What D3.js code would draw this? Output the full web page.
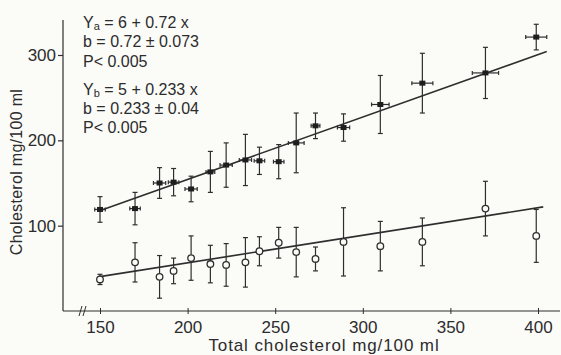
<!DOCTYPE html>
<html>
<head>
<meta charset="utf-8">
<script src="https://cdn.jsdelivr.net/npm/d3@7"></script>
<style>
  body { margin: 0; background: #fbfbf8; }
  text { font-family: "Liberation Sans", Arial, sans-serif; fill: #2c2c2c; }
</style>
</head>
<body>
<div id="chart"></div>
<script>
/**
 * Data
 */
const totalChol = [150, 170, 184, 192, 202, 213, 222, 233, 241, 252, 262, 273, 289, 310, 334, 370, 399];
const totalCholErr = [3, 3, 3.5, 3, 3.5, 2.5, 3.5, 3.5, 3, 3, 4.5, 2.5, 3.5, 5, 6, 7.5, 6];

const cholA = [119, 120, 150, 151, 143, 163, 171, 177, 176, 175, 197, 217, 215, 242, 267, 279, 321];
const cholAErr = [15, 19, 18, 16, 15, 24, 26, 30, 16, 20, 35, 15, 16, 34, 35, 30, 15];

const cholB = [37, 57, 40, 47, 62, 55, 54, 57, 70, 80, 69, 61, 81, 76, 81, 120, 88];
const cholBErr = [6, 23, 25, 15, 26, 22, 25, 29, 17, 18, 29, 14, 40, 29, 28, 32, 31];

// regression lines, end points as drawn
const fitA = [[149, 117], [405, 304]];
const fitB = [[149, 40], [403, 122]];

const xTicks = [150, 200, 250, 300, 350, 400];
const yTicks = [100, 200, 300];

const noteLines = [
  ["Y", "a", " = 6 + 0.72 x"],
  ["b = 0.72 ± 0.073"],
  ["P< 0.005"],
  ["Y", "b", " = 5 + 0.233 x"],
  ["b = 0.233 ± 0.04"],
  ["P< 0.005"]
];

/**
 * Basic settings
 */
const width = 561;
const height = 355;
const ink = "#2e2e2e";

const svg = d3.select("#chart")
  .append("svg")
  .attr("width", width)
  .attr("height", height);

const x = d3.scaleLinear().domain([150, 400]).range([100, 538]);
const y = d3.scaleLinear().domain([0, 300]).range([311, 55]);

const axisLeftX = 63;
const yTop = 341;

/**
 * Axes
 */
const yAxis = svg.append("g")
  .attr("transform", `translate(${axisLeftX},0)`)
  .call(d3.axisLeft(y).tickValues(yTicks).tickSize(5).tickPadding(2));
yAxis.select(".domain").remove();
yAxis.selectAll("line").attr("stroke", ink).attr("stroke-width", 1.2);
yAxis.selectAll("text").attr("font-size", 17).attr("fill", ink)
  .attr("font-family", "Liberation Sans, Arial, sans-serif");

svg.append("line")
  .attr("x1", axisLeftX).attr("x2", axisLeftX)
  .attr("y1", y(0)).attr("y2", y(yTop))
  .attr("stroke", ink).attr("stroke-width", 1.2);

const xAxis = svg.append("g")
  .attr("transform", `translate(0,${y(0)})`)
  .call(d3.axisBottom(x).tickValues(xTicks).tickSize(3).tickPadding(7));
xAxis.select(".domain").remove();
xAxis.selectAll("line").attr("stroke", ink).attr("stroke-width", 1).attr("y1", -3);
xAxis.selectAll("text").attr("font-size", 17).attr("fill", ink)
  .attr("font-family", "Liberation Sans, Arial, sans-serif");

svg.append("line")
  .attr("x1", axisLeftX).attr("x2", 560)
  .attr("y1", y(0)).attr("y2", y(0))
  .attr("stroke", ink).attr("stroke-width", 1.2);

// axis break mark
[0, 4].forEach(function(off) {
  svg.append("line")
    .attr("x1", 79 + off).attr("y1", y(0) + 5)
    .attr("x2", 82 + off).attr("y2", y(0) - 5)
    .attr("stroke", ink).attr("stroke-width", 1);
});

svg.append("text")
  .attr("x", 324).attr("y", 351)
  .attr("text-anchor", "middle")
  .attr("font-size", 17)
  .attr("letter-spacing", 0.9)
  .text("Total cholesterol mg/100 ml");

svg.append("text")
  .attr("transform", "translate(22,172) rotate(-90)")
  .attr("text-anchor", "middle")
  .attr("font-size", 16)
  .attr("letter-spacing", 0.3)
  .text("Cholesterol mg/100 ml");

/**
 * Regression lines
 */
[fitA, fitB].forEach(function(fit) {
  svg.append("line")
    .attr("x1", x(fit[0][0])).attr("y1", y(fit[0][1]))
    .attr("x2", x(fit[1][0])).attr("y2", y(fit[1][1]))
    .attr("stroke", ink).attr("stroke-width", 1.6);
});

/**
 * Error bars
 */
const cap = 2.5;
function vBars(vals, errs, cls) {
  const g = svg.append("g").attr("class", cls)
    .attr("stroke", ink).attr("stroke-width", 1.2);
  const sel = g.selectAll("g").data(totalChol).enter().append("g");
  sel.append("line")
    .attr("x1", function(d) { return x(d); })
    .attr("x2", function(d) { return x(d); })
    .attr("y1", function(d, i) { return y(vals[i] - errs[i]); })
    .attr("y2", function(d, i) { return y(vals[i] + errs[i]); });
  [-1, 1].forEach(function(s) {
    sel.append("line")
      .attr("x1", function(d) { return x(d) - cap; })
      .attr("x2", function(d) { return x(d) + cap; })
      .attr("y1", function(d, i) { return y(vals[i] + s * errs[i]); })
      .attr("y2", function(d, i) { return y(vals[i] + s * errs[i]); });
  });
}
vBars(cholA, cholAErr, "err-a");
vBars(cholB, cholBErr, "err-b");

// horizontal bars on the upper series
const hg = svg.append("g").attr("stroke", ink).attr("stroke-width", 1.2);
const hsel = hg.selectAll("g").data(totalChol).enter().append("g");
hsel.append("line")
  .attr("x1", function(d, i) { return x(d - totalCholErr[i]); })
  .attr("x2", function(d, i) { return x(d + totalCholErr[i]); })
  .attr("y1", function(d, i) { return y(cholA[i]); })
  .attr("y2", function(d, i) { return y(cholA[i]); });
[-1, 1].forEach(function(s) {
  hsel.append("line")
    .attr("x1", function(d, i) { return x(d + s * totalCholErr[i]); })
    .attr("x2", function(d, i) { return x(d + s * totalCholErr[i]); })
    .attr("y1", function(d, i) { return y(cholA[i]) - 2; })
    .attr("y2", function(d, i) { return y(cholA[i]) + 2; });
});

/**
 * Points
 */
svg.selectAll(".pt-a")
  .data(totalChol)
  .enter()
  .append("rect")
  .attr("class", "pt-a")
  .attr("x", function(d) { return x(d) - 3; })
  .attr("y", function(d, i) { return y(cholA[i]) - 2.5; })
  .attr("width", 6)
  .attr("height", 5)
  .attr("fill", "#1e1e1e");

svg.selectAll(".pt-b")
  .data(totalChol)
  .enter()
  .append("circle")
  .attr("class", "pt-b")
  .attr("cx", function(d) { return x(d); })
  .attr("cy", function(d, i) { return y(cholB[i]); })
  .attr("r", 3.3)
  .attr("fill", "#fbfbf8")
  .attr("stroke", ink)
  .attr("stroke-width", 1.3);

/**
 * Equations
 */
const noteY = [28, 47, 67, 95, 114, 133];
noteLines.forEach(function(parts, i) {
  const t = svg.append("text")
    .attr("x", 83).attr("y", noteY[i])
    .attr("font-size", 16);
  if (parts.length === 1) {
    t.text(parts[0]);
  } else {
    t.append("tspan").text(parts[0]);
    t.append("tspan").attr("font-size", 11).attr("dy", 2).text(parts[1]);
    t.append("tspan").attr("dy", -2).text(parts[2]);
  }
});
</script>
</body>
</html>
